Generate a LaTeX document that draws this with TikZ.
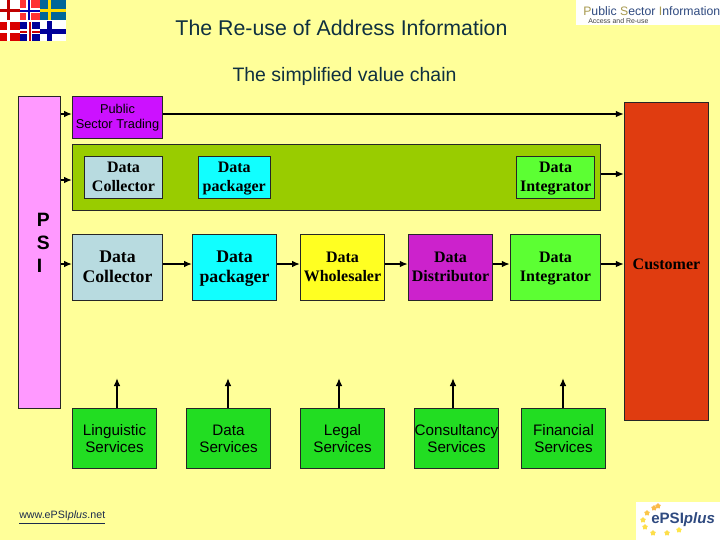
\documentclass[tikz,border=0pt]{standalone}
\usepackage{fontspec}
\setmainfont{Liberation Serif}
\setsansfont{Liberation Sans}
\usepackage{xcolor}
\usetikzlibrary{arrows.meta, shapes.geometric}
\definecolor{pagebg}{HTML}{FFFF99}
\definecolor{titleink}{HTML}{0F3040}
\definecolor{psipink}{HTML}{FF99FF}
\definecolor{tradepurple}{HTML}{CC11FF}
\definecolor{bandgreen}{HTML}{99CC00}
\definecolor{collectorblue}{HTML}{B8DBE0}
\definecolor{packagercyan}{HTML}{11FFFF}
\definecolor{wholesaleyellow}{HTML}{FFFF22}
\definecolor{distmagenta}{HTML}{CC22CC}
\definecolor{integratorgreen}{HTML}{5CFF33}
\definecolor{servicegreen}{HTML}{22DD22}
\definecolor{customerred}{HTML}{E03C10}
\definecolor{epsiblue}{HTML}{2F4A80}
\definecolor{logotan}{HTML}{A89A50}
\newcommand{\rowstrut}{\rule{0pt}{0.85\baselineskip}}
\tikzset{
    pxbox/.style={draw=black!85, line width=0.7pt, inner sep=0pt, align=center, text=black},
    smallserif/.style={pxbox, font=\rmfamily\bfseries\fontsize{12}{14.2}\selectfont},
    bigserif/.style={pxbox, font=\rmfamily\bfseries\fontsize{13.3}{15.2}\selectfont},
    servicebox/.style={pxbox, fill=servicegreen, minimum width=63pt, minimum height=45pt,
        font=\sffamily\fontsize{11.4}{12.8}\selectfont},
    link/.style={line width=1.5pt, black, -{Latex[length=6pt,width=5pt]}}
}
\begin{document}
\begin{tikzpicture}[x=0.75pt, y=-0.75pt]
\useasboundingbox (0,0) rectangle (720,540);
\fill[pagebg] (0,0) rectangle (720,540);
% Title lines
\node[font=\sffamily\fontsize{16}{18}\selectfont, text=titleink] (title) at (341.5,28) {The Re-use of Address Information};
\node[font=\sffamily\fontsize{14.6}{16}\selectfont, text=titleink] (subtitle) at (344.5,76) {The simplified value chain};
% Flags logo
\fill[white] (0,0) rectangle (66,41);
\fill[red!85!black] (0,22) rectangle (20,41);
\fill[white] (7,22) rectangle (10,41);
\fill[white] (0,30) rectangle (20,33);
\fill[blue!60!black] (20,22) rectangle (40,41);
\fill[white] (20,29) rectangle (40,34);
\fill[red!80!black] (20,30.5) rectangle (40,32.5);
\fill[white] (27,22) rectangle (32,41);
\fill[red!80!black] (28.5,22) rectangle (30.5,41);
\fill[blue!60!black] (47,21) rectangle (52,41);
\fill[blue!60!black] (40,29) rectangle (66,34);
\fill[red!80!white] (20,0) rectangle (40,20);
\fill[white] (20,8) rectangle (40,13);
\fill[white] (26,0) rectangle (31,20);
\fill[blue!70!black] (20,9.5) rectangle (40,11.5);
\fill[blue!70!black] (27.5,0) rectangle (29.5,20);
\fill[red!75!black] (0,9) rectangle (20,12);
\fill[red!75!black] (7,0) rectangle (10,20);
\fill[teal!80!blue] (40,0) rectangle (66,20);
\fill[yellow!80!orange] (40,9) rectangle (66,12);
\fill[yellow!80!orange] (48,0) rectangle (51,20);
% PSI logo
\fill[white] (576,0) rectangle (720,25);
\node[font=\sffamily\fontsize{9.2}{11}\selectfont, text=epsiblue, anchor=west, inner sep=0pt] (psilogo) at (583,11)
    {\textcolor{logotan}{P}ublic \textcolor{logotan}{S}ector \textcolor{logotan}{I}nformation};
\node[font=\sffamily\fontsize{5.2}{6}\selectfont, text=black!75, anchor=west, inner sep=0pt] (psisub) at (588,21) {Access and Re-use};
% ePSIplus logo
\fill[white] (636,502) rectangle (720,540);
\node[font=\sffamily\bfseries\fontsize{11.3}{13}\selectfont, text=epsiblue, anchor=west, inner sep=0pt] (epsi) at (651,519.5) {ePSI\textit{plus}};
\foreach \sx/\sy/\shade in {643/520/70, 645/527/70, 653/533/70, 667/533/70, 679/530/80, 647/513/40, 654/508/25, 658/506/25}{
    \node[star, star points=5, fill=yellow!\shade!orange!70!white, inner sep=0pt, minimum size=4.5pt] at (\sx,\sy) {};
}
% Left and right columns
\node[pxbox, fill=psipink, minimum width=31.9pt, minimum height=233.6pt, align=flush left, text width=3.4pt,
      font=\sffamily\bfseries\fontsize{14.5}{17}\selectfont] (psi) at (39.25,252.25) {P\\S\\I\\[-3pt]~};
\node[smallserif, fill=customerred, minimum width=63.2pt, minimum height=238.4pt] (customer) at (666.5,261.25) {Customer\rowstrut};
% Trading box and band
\node[pxbox, fill=tradepurple, minimum width=67.5pt, minimum height=31.1pt,
      font=\sffamily\fontsize{9.6}{11.25}\selectfont] (trading) at (117.5,117.25) {Public\\Sector Trading};
\node[pxbox, fill=bandgreen, minimum width=396pt, minimum height=49.1pt] (band) at (336.5,177.25) {};
% Boxes inside the band
\node[smallserif, fill=collectorblue, minimum width=58.5pt, minimum height=31.9pt] (collectorb) at (123.5,177.25) {Data\rowstrut\\Collector\strut};
\node[smallserif, fill=packagercyan, minimum width=53.6pt, minimum height=31.5pt] (packagerb) at (234.25,177) {Data\rowstrut\\packager\strut};
\node[smallserif, fill=integratorgreen, minimum width=58.6pt, minimum height=31.5pt] (integratorb) at (555.6,177) {Data\rowstrut\\Integrator\strut};
% Main row
\node[bigserif, fill=collectorblue, minimum width=67.5pt, minimum height=49.9pt] (collector) at (117.5,267.25) {Data\rowstrut\\Collector\strut};
\node[bigserif, fill=packagercyan, minimum width=63pt, minimum height=49.9pt] (packager) at (234.5,267.25) {Data\rowstrut\\packager\strut};
\node[smallserif, fill=wholesaleyellow, minimum width=63pt, minimum height=49.9pt] (wholesaler) at (342.5,267.25) {Data\rowstrut\\Wholesaler\strut};
\node[smallserif, fill=distmagenta, minimum width=63.3pt, minimum height=49.9pt] (distributor) at (450.5,267.25) {Data\rowstrut\\Distributor\strut};
\node[smallserif, fill=integratorgreen, minimum width=67.8pt, minimum height=49.9pt] (integrator) at (555.5,267.25) {Data\rowstrut\\Integrator\strut};
% Services row
\foreach \name/\cx/\first in {linguistic/114.5/Linguistic, dataserv/228.5/Data, legal/342.5/Legal,
    consultancy/456.5/Consultancy, financial/563.5/Financial}{
    \node[servicebox] (\name) at (\cx,438.5) {\first\\Services};
}
% Free ends of the service arrows
\coordinate (tiplinguistic) at (117,378);
\coordinate (tipdata) at (228,378);
\coordinate (tiplegal) at (339,378);
\coordinate (tipconsultancy) at (453,378);
\coordinate (tipfinancial) at (563,378);
% Arrow levels
\coordinate (tradeline) at (0,114);
\coordinate (bandin) at (0,180);
\coordinate (bandout) at (0,174);
\coordinate (rowline) at (0,264);
% Arrows along the chain
\draw[link] (psi.east |- tradeline) -- (trading.west |- tradeline);
\draw[link] (trading.east |- tradeline) -- (customer.west |- tradeline);
\draw[link] (psi.east |- bandin) -- (band.west |- bandin);
\draw[link] (band.east |- bandout) -- (customer.west |- bandout);
\draw[link] (psi.east |- rowline) -- (collector.west |- rowline);
\draw[link] (collector.east |- rowline) -- (packager.west |- rowline);
\draw[link] (packager.east |- rowline) -- (wholesaler.west |- rowline);
\draw[link] (wholesaler.east |- rowline) -- (distributor.west |- rowline);
\draw[link] (distributor.east |- rowline) -- (integrator.west |- rowline);
\draw[link] (integrator.east |- rowline) -- (customer.west |- rowline);
% Arrows up from the services
\draw[link] (tiplinguistic |- linguistic.north) -- (tiplinguistic);
\draw[link] (tipdata |- dataserv.north) -- (tipdata);
\draw[link] (tiplegal |- legal.north) -- (tiplegal);
\draw[link] (tipconsultancy |- consultancy.north) -- (tipconsultancy);
\draw[link] (tipfinancial |- financial.north) -- (tipfinancial);
% Web address
\node[font=\sffamily\fontsize{8}{10}\selectfont, text=epsiblue!60!black, anchor=west, inner sep=0pt] (web) at (19,517.5) {\underline{www.ePSI\textit{plus}.net}};
\end{tikzpicture}
\end{document}
